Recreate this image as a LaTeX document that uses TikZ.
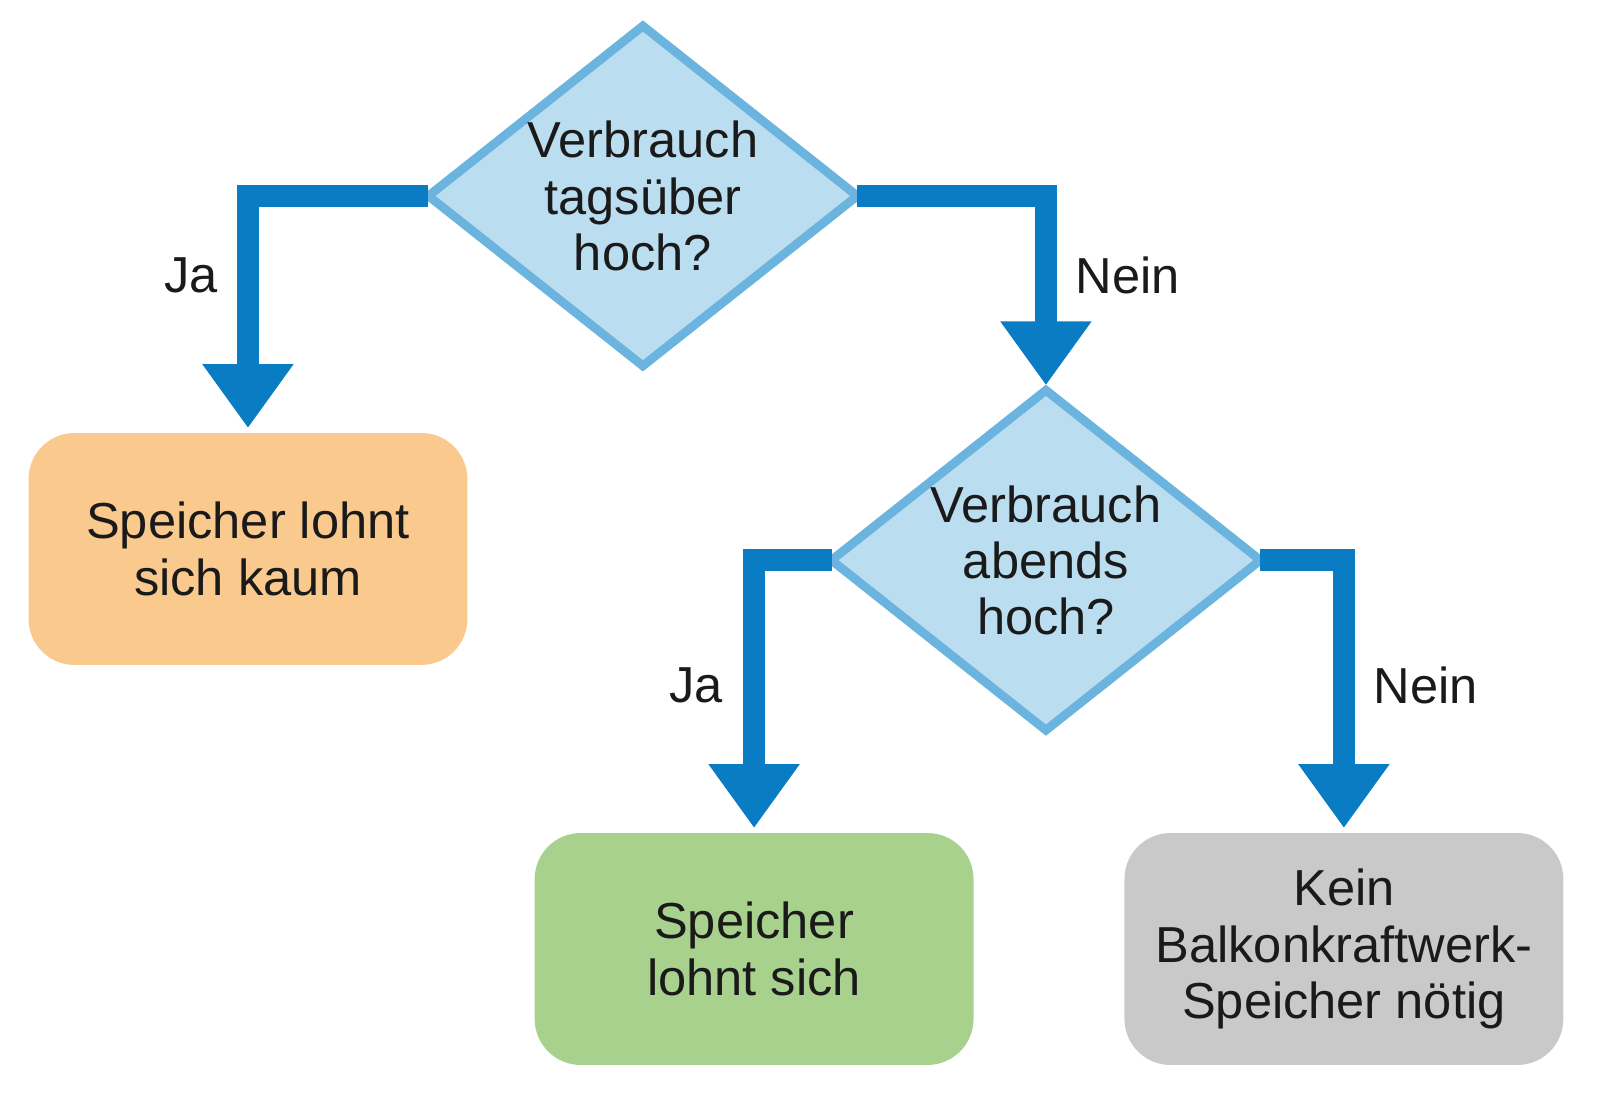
\documentclass[tikz,border=0pt]{standalone}
\usepackage{fontspec}
\setmainfont{Liberation Sans}
\usetikzlibrary{arrows.meta}
\definecolor{arr}{HTML}{0A7CC4}
\definecolor{dfill}{HTML}{BADDF0}
\definecolor{dline}{HTML}{6AB4DF}
\definecolor{orng}{HTML}{F9C98E}
\definecolor{grn}{HTML}{A9D18E}
\definecolor{gry}{HTML}{C9C9C9}
\definecolor{txt}{HTML}{1A1A1A}
\begin{document}
\begin{tikzpicture}[x=0.010204cm,y=-0.010204cm,
  txtf/.style={text=txt,font=\fontsize{14.4}{16}\selectfont},
  dec/.style={txtf,minimum width=4.29cm,minimum height=3.40cm,inner sep=0pt,outer sep=0pt,align=center},
  dshape/.style={fill=dfill,draw=dline,line width=2.5pt,line join=miter},
  box/.style={txtf,rounded corners=0.46cm,minimum width=4.39cm,minimum height=2.32cm,outer sep=0pt,align=center},
  flow/.style={draw=arr,line width=0.22cm,-{Triangle[width=0.87cm,length=0.64cm]}},
  lab/.style={txtf}]
\useasboundingbox (0,0) rectangle (1568,1078);
\node[dec] (d1) at (630,192) {};
\draw[dshape] (d1.west) -- (d1.north) -- (d1.east) -- (d1.south) -- cycle;
\node[dec] at (d1) {Verbrauch\\tagsüber\\hoch?};
\node[dec] (d2) at (1025,549) {};
\draw[dshape] (d2.west) -- (d2.north) -- (d2.east) -- (d2.south) -- cycle;
\node[dec] at (d2) {Verbrauch\\abends\\hoch?};
\node[box,fill=orng] (b1) at (243,538) {Speicher lohnt\\sich kaum};
\node[box,fill=grn] (b2) at (739,930) {Speicher\\lohnt sich};
\node[box,fill=gry] (b3) at (1317,930) {Kein\\Balkonkraftwerk-\\Speicher nötig};
\draw[flow] (d1.west) -| ([yshift=0.05cm]b1.north);
\draw[flow] (d1.east) -| ([yshift=0.05cm]d2.north);
\draw[flow] (d2.west) -| ([yshift=0.05cm]b2.north);
\draw[flow] (d2.east) -| ([yshift=0.05cm]b3.north);
\node[lab] (j1) at (187,270) {Ja};
\node[lab] (n1) at (1105,270) {Nein};
\node[lab] (j2) at (682,672) {Ja};
\node[lab] (n2) at (1397,672) {Nein};
\end{tikzpicture}
\end{document}
